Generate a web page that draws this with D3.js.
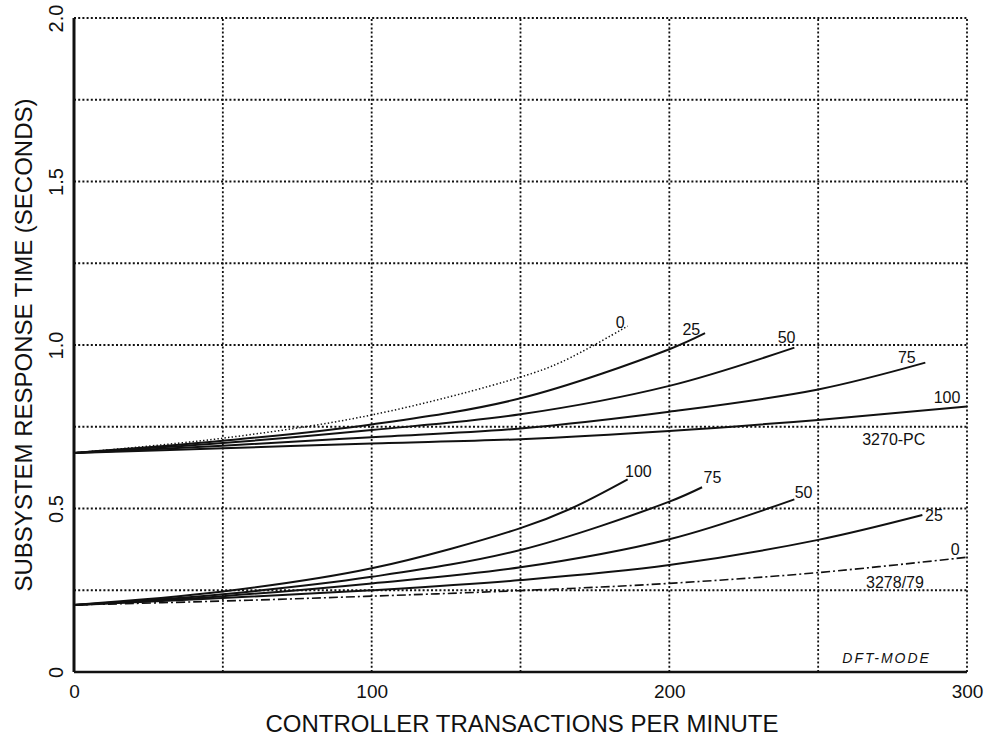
<!DOCTYPE html>
<html>
<head>
<meta charset="utf-8">
<script src="https://cdn.jsdelivr.net/npm/d3@7"></script>
<style>
  html, body { margin: 0; padding: 0; background: #fff; }
  svg { display: block; }
  text { font-family: "Liberation Sans", Arial, sans-serif; fill: #111; }
</style>
</head>
<body>
<svg id="chart" width="990" height="743"></svg>
<script>
// ---- Data ----
const xTicks = [0, 100, 200, 300];
const yTicks = [0, 0.5, 1.0, 1.5, 2.0];
const gridX = [50, 100, 150, 200, 250, 300];
const gridY = [0.25, 0.5, 0.75, 1.0, 1.25, 1.5, 1.75, 2.0];

// 3270-PC group (upper curves), [transactions/min, seconds]
const pc0   = [[0,0.670],[50,0.715],[100,0.786],[150,0.902],[164,0.949],[186,1.058]];
const pc25  = [[0,0.670],[50,0.707],[100,0.757],[150,0.837],[200,0.987],[212,1.036]];
const pc50  = [[0,0.670],[50,0.700],[100,0.740],[150,0.788],[200,0.875],[242,0.992]];
const pc75  = [[0,0.670],[50,0.692],[100,0.718],[150,0.745],[200,0.796],[250,0.864],[286,0.946]];
const pc100 = [[0,0.670],[50,0.684],[100,0.699],[150,0.712],[200,0.737],[250,0.771],[300,0.812]];

// 3278/79 group (lower curves)
const t100 = [[0,0.205],[50,0.246],[100,0.317],[150,0.440],[167,0.500],[186,0.589]];
const t75  = [[0,0.205],[50,0.238],[100,0.291],[150,0.373],[200,0.521],[211,0.565]];
const t50  = [[0,0.205],[50,0.232],[100,0.271],[150,0.320],[200,0.406],[242,0.528]];
const t25  = [[0,0.205],[50,0.226],[100,0.250],[150,0.281],[200,0.327],[250,0.404],[285,0.480]];
const t0   = [[0,0.205],[50,0.217],[100,0.232],[150,0.249],[200,0.271],[250,0.304],[300,0.351]];

// Text annotations in data units: [label, x, y]
const curveLabels = [
  ["0",183.5,1.052],["25",207.4,1.031],["50",239.4,1.006],["75",279.8,0.945],["100",293.3,0.823],
  ["3270-PC",275.4,0.694],
  ["100",189.6,0.596],["75",214.5,0.578],["50",245.1,0.532],["25",288.9,0.462],["0",296.0,0.358],
  ["3278/79",275.8,0.257]
];
const noteLabel = ["DFT-MODE", 273, 0.028];

const xTitle = "CONTROLLER TRANSACTIONS PER MINUTE";
const yTitle = "SUBSYSTEM RESPONSE TIME (SECONDS)";

// ---- Drawing ----
(function () {
const svg = d3.select("#chart");
const mLeft = 74, mRight = 967, mTop = 18, mBottom = 672;
const x = d3.scaleLinear().domain([0, 300]).range([mLeft, mRight]);
const y = d3.scaleLinear().domain([0, 2]).range([mBottom, mTop]);

const ink = "#111";
const fontFam = '"Liberation Sans", Arial, sans-serif';

// dotted grid
svg.append("g").selectAll("line").data(gridY).join("line")
  .attr("x1", x(0)).attr("x2", x(300))
  .attr("y1", d => y(d)).attr("y2", d => y(d))
  .attr("stroke", ink).attr("stroke-width", 1.8).attr("stroke-dasharray", "2,2.2");
svg.append("g").selectAll("line").data(gridX).join("line")
  .attr("x1", d => x(d)).attr("x2", d => x(d))
  .attr("y1", y(0)).attr("y2", y(2))
  .attr("stroke", ink).attr("stroke-width", 1.8).attr("stroke-dasharray", "2,2.2");

// axes (solid)
svg.append("line").attr("x1", x(0)).attr("x2", x(0)).attr("y1", y(0)).attr("y2", y(2))
  .attr("stroke", ink).attr("stroke-width", 3);
svg.append("line").attr("x1", x(0)).attr("x2", x(300)).attr("y1", y(0)).attr("y2", y(0))
  .attr("stroke", ink).attr("stroke-width", 2.6);

// tick labels via d3 axes
const xAxis = d3.axisBottom(x).tickValues(xTicks).tickSize(0).tickFormat(d3.format("d"));
const gx = svg.append("g").attr("transform", `translate(0,${mBottom})`).call(xAxis);
gx.select(".domain").remove();
gx.selectAll("text").attr("y", 26).attr("dy", null)
  .style("font-size", "19px").style("font-family", fontFam).attr("fill", ink);

const yAxis = d3.axisLeft(y).tickValues(yTicks).tickSize(0)
  .tickFormat(d => d === 0 ? "0" : d3.format(".1f")(d));
const gy = svg.append("g").attr("transform", `translate(${mLeft},0)`).call(yAxis);
gy.select(".domain").remove();
gy.selectAll("text")
  .attr("transform", "rotate(-90)")
  .attr("x", 0).attr("y", -11).attr("dy", null)
  .attr("text-anchor", "middle")
  .style("font-size", "20px").style("font-family", fontFam).attr("fill", ink);

// curves
const line = d3.line().x(d => x(d[0])).y(d => y(d[1])).curve(d3.curveCatmullRom.alpha(0.5));
const curves = [
  {data: pc0,  dash: "1.4,2.2", w: 1.5},
  {data: pc25, dash: null, w: 2},
  {data: pc50, dash: null, w: 2},
  {data: pc75, dash: null, w: 2},
  {data: pc100, dash: null, w: 2},
  {data: t100, dash: null, w: 2},
  {data: t75,  dash: null, w: 2},
  {data: t50,  dash: null, w: 2},
  {data: t25,  dash: null, w: 2},
  {data: t0,   dash: "9,3,2,3", w: 1.6}
];
svg.append("g").selectAll("path").data(curves).join("path")
  .attr("d", d => line(d.data))
  .attr("fill", "none").attr("stroke", ink)
  .attr("stroke-width", d => d.w)
  .attr("stroke-dasharray", d => d.dash);

// curve labels
svg.append("g").selectAll("text").data(curveLabels).join("text")
  .attr("x", d => x(d[1])).attr("y", d => y(d[2]))
  .attr("text-anchor", "middle")
  .style("font-size", "16px")
  .text(d => d[0]);

svg.append("text")
  .attr("x", x(noteLabel[1])).attr("y", y(noteLabel[2]))
  .attr("text-anchor", "middle")
  .style("font-size", "14px").style("font-style", "italic").style("letter-spacing", "2px")
  .text(noteLabel[0]);

// axis titles
svg.append("text").attr("x", 522).attr("y", 732).attr("text-anchor", "middle")
  .style("font-size", "24px").text(xTitle);
svg.append("text").attr("transform", "translate(32,345) rotate(-90)").attr("text-anchor", "middle")
  .style("font-size", "24px").text(yTitle);
})();
</script>
</body>
</html>
